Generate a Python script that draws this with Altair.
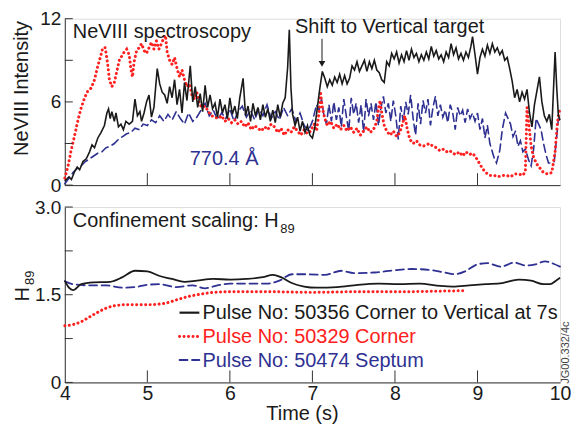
import altair as alt
import pandas as pd

# ---------------- data ----------------
# NeVIII intensity, pulse 50356 (black)
blk_t = [4.00,4.05,4.08,4.12,4.15,4.18,4.22,4.26,4.30,4.33,4.36,4.40,4.44,4.48,4.51,4.53,4.55,4.57,4.60,4.62,
         4.65,4.68,4.71,4.74,4.78,4.82,4.85,4.88,4.91,4.93,4.96,4.99,5.02,5.05,5.08,5.12,5.15,5.18,5.21,5.24,
         5.27,5.30,5.33,5.36,5.39,5.42,5.45,5.48,5.52,5.55,5.58,5.61,5.64,5.67,5.70,5.73,5.76,5.79,5.82,5.85,
         5.88,5.91,5.94,5.97,6.00,6.03,6.06,6.09,6.12,6.16,6.19,6.22,6.25,6.28,6.31,6.34,6.37,6.40,6.43,6.46,
         6.49,6.52,6.55,6.58,6.61,6.64,6.67,6.70,6.72,6.74,6.76,6.79,6.82,6.85,6.88,6.91,6.94,6.97,7.00,7.03,
         7.06,7.09,7.12,7.15,7.18,7.21,7.24,7.27,7.30,7.33,7.36,7.39,7.42,7.45,7.48,7.51,7.54,7.57,7.60,7.63,
         7.66,7.69,7.72,7.75,7.78,7.81,7.84,7.87,7.90,7.93,7.96,7.99,8.02,8.05,8.08,8.11,8.14,8.17,8.20,8.23,
         8.26,8.29,8.32,8.35,8.38,8.41,8.44,8.47,8.50,8.53,8.56,8.59,8.62,8.65,8.68,8.71,8.74,8.77,8.80,8.83,
         8.86,8.89,8.92,8.94,8.97,9.00,9.03,9.06,9.09,9.12,9.15,9.18,9.21,9.24,9.27,9.30,9.33,9.36,9.39,9.42,
         9.45,9.48,9.51,9.54,9.57,9.60,9.63,9.66,9.69,9.72,9.75,9.78,9.81,9.84,9.87,9.90,9.92,9.94,9.96,9.98,10.00]
blk_v = [0.3,0.6,0.4,1.0,1.3,1.1,1.7,1.9,2.4,2.9,2.7,3.4,3.8,4.3,5.2,5.5,4.8,5.3,4.6,5.2,
         4.2,4.4,4.0,4.6,4.4,4.6,6.2,5.0,5.3,4.6,5.2,6.0,6.5,4.9,5.6,8.4,7.3,6.7,6.5,5.9,
         7.1,6.3,7.6,5.8,6.9,5.2,7.4,6.1,8.6,6.0,7.1,5.6,6.6,5.3,7.2,5.6,6.5,5.5,5.9,4.9,
         6.2,5.2,5.8,4.8,6.3,5.1,5.7,4.8,6.3,7.7,5.0,5.7,4.6,5.9,5.0,5.6,4.7,5.8,4.9,5.5,
         4.6,5.4,4.5,5.8,4.9,5.9,6.3,8.5,11.2,7.0,5.1,4.3,4.9,3.9,4.6,3.8,4.3,3.6,3.4,4.2,
         5.6,7.0,8.2,7.7,7.1,7.6,7.2,7.8,7.4,8.0,7.3,7.9,7.3,7.7,8.6,8.3,8.9,8.2,8.6,9.0,
         8.2,8.9,8.4,9.0,8.3,8.1,7.6,7.4,8.9,8.6,9.5,9.1,9.6,8.8,9.4,8.9,9.7,9.0,9.8,9.2,
         9.5,8.9,9.4,9.0,9.6,9.1,10.0,9.3,9.7,9.1,9.4,8.9,9.6,9.2,10.2,9.4,9.9,9.1,9.5,9.0,
         9.6,9.2,10.0,10.7,9.4,8.0,9.2,9.8,9.3,10.1,9.5,10.2,9.6,9.9,9.4,9.7,9.0,9.2,8.4,7.5,
         6.3,6.9,6.0,6.7,6.2,6.9,5.2,4.2,5.8,6.8,7.8,6.0,5.0,4.6,5.1,4.0,6.8,9.6,7.0,5.0,4.7]

# NeVIII intensity, pulse 50329 (red)
red_t = [4.00,4.04,4.08,4.12,4.16,4.20,4.24,4.28,4.32,4.36,4.40,4.43,4.46,4.49,4.52,4.54,4.57,4.60,4.63,4.66,
         4.69,4.72,4.75,4.78,4.80,4.82,4.84,4.87,4.90,4.93,4.96,4.99,5.02,5.05,5.08,5.11,5.14,5.17,5.20,5.22,
         5.24,5.27,5.30,5.33,5.36,5.39,5.42,5.45,5.48,5.51,5.54,5.57,5.60,5.63,5.66,5.70,5.74,5.78,5.82,5.86,
         5.90,5.94,5.98,6.02,6.06,6.10,6.14,6.18,6.22,6.26,6.30,6.34,6.38,6.42,6.46,6.50,6.54,6.58,6.62,6.66,
         6.70,6.74,6.78,6.82,6.86,6.90,6.94,6.98,7.02,7.05,7.08,7.10,7.12,7.15,7.18,7.22,7.26,7.30,7.34,7.38,
         7.42,7.46,7.50,7.54,7.58,7.62,7.66,7.70,7.74,7.78,7.80,7.82,7.84,7.87,7.90,7.94,7.98,8.02,8.06,8.09,
         8.12,8.15,8.18,8.22,8.26,8.30,8.34,8.38,8.42,8.46,8.50,8.54,8.58,8.62,8.66,8.70,8.74,8.78,8.82,8.86,
         8.90,8.94,8.98,9.02,9.06,9.10,9.15,9.20,9.25,9.30,9.35,9.40,9.45,9.50,9.55,9.58,9.60,9.62,9.65,9.68,
         9.72,9.76,9.80,9.85,9.90,9.94,9.97,10.00]
red_v = [0.5,1.4,2.6,3.6,4.7,5.6,6.3,6.8,7.0,7.6,8.6,9.2,9.9,9.9,8.7,7.6,7.1,7.4,8.2,9.0,
         9.3,9.6,9.8,9.4,8.4,7.8,8.9,9.7,9.9,10.2,9.7,9.5,9.9,10.3,9.8,10.4,9.8,10.2,10.6,10.8,
         9.6,9.0,8.7,9.2,8.4,7.8,8.3,7.6,7.1,7.3,6.5,6.2,6.7,5.9,5.6,5.7,5.3,5.0,4.9,4.8,
         5.0,4.6,4.8,4.5,4.7,4.4,4.6,4.2,4.5,4.0,4.3,4.1,3.9,4.2,4.0,4.4,4.2,3.8,4.1,3.6,
         4.0,3.8,4.2,3.9,3.6,4.0,3.7,3.9,4.4,3.9,5.2,6.6,5.6,4.8,4.3,4.6,4.1,4.4,4.0,4.3,
         3.9,4.2,3.8,4.1,3.6,3.9,4.2,3.8,4.0,4.6,5.5,6.1,5.2,4.3,3.9,3.6,3.9,3.5,3.8,4.4,
         5.0,4.0,3.3,3.0,3.2,2.9,2.8,2.9,3.0,2.8,2.7,2.5,2.6,2.4,2.5,2.3,2.2,2.4,2.1,2.4,
         2.2,2.3,2.0,1.6,1.2,0.9,0.7,0.7,0.6,0.7,0.7,0.6,0.8,0.8,0.7,1.0,5.6,4.5,2.8,2.0,
         1.5,1.2,0.9,0.8,0.9,2.4,4.6,5.6]

# NeVIII intensity, pulse 50474 (blue)
blu_t = [4.00,4.05,4.10,4.15,4.20,4.25,4.30,4.35,4.40,4.45,4.50,4.55,4.60,4.65,4.70,4.75,4.80,4.85,4.90,4.95,
         5.00,5.05,5.10,5.15,5.20,5.25,5.30,5.35,5.40,5.45,5.50,5.55,5.60,5.65,5.70,5.75,5.80,5.85,5.90,5.95,
         6.00,6.05,6.10,6.15,6.20,6.25,6.30,6.35,6.40,6.45,6.50,6.55,6.60,6.65,6.70,6.75,6.80,6.85,6.90,6.95,
         7.00,7.05,7.08,7.11,7.14,7.17,7.20,7.23,7.26,7.29,7.32,7.35,7.38,7.41,7.44,7.47,7.50,7.53,7.56,7.59,
         7.62,7.65,7.68,7.71,7.74,7.77,7.80,7.83,7.86,7.89,7.92,7.95,7.98,8.01,8.04,8.07,8.10,8.13,8.16,8.19,
         8.22,8.25,8.28,8.31,8.34,8.37,8.40,8.43,8.46,8.49,8.52,8.55,8.58,8.61,8.64,8.67,8.70,8.73,8.76,8.79,
         8.82,8.85,8.88,8.91,8.94,8.97,9.00,9.03,9.06,9.09,9.12,9.15,9.20,9.23,9.27,9.30,9.34,9.37,9.40,9.43,
         9.46,9.49,9.52,9.55,9.58,9.62,9.65,9.68,9.71,9.74,9.77,9.80,9.83,9.86,9.90,9.93,9.96,9.98,10.00]
blu_v = [0.1,0.5,0.9,1.2,1.4,1.7,1.9,2.1,2.3,2.4,2.7,2.8,3.0,3.3,3.5,3.7,3.8,4.1,4.0,4.4,
         4.3,4.7,4.5,5.0,4.6,5.1,4.7,5.3,4.8,4.4,5.2,4.6,4.9,5.4,5.9,5.0,5.4,4.7,5.2,4.8,
         5.5,4.6,5.3,5.7,4.9,5.4,4.7,5.5,5.0,5.8,4.8,5.3,4.7,5.6,5.0,5.5,4.6,5.2,4.3,3.9,
         4.6,5.8,5.4,6.2,5.0,4.4,5.8,4.6,6.0,4.7,5.6,4.2,6.2,5.0,3.9,6.3,5.1,5.9,4.5,5.8,
         3.8,6.2,5.0,5.9,4.7,6.0,4.3,5.6,6.4,5.2,5.9,4.6,6.1,5.0,3.3,5.7,4.6,6.0,5.1,6.5,
         4.8,3.6,5.9,4.4,6.1,5.2,6.2,4.3,5.6,6.4,5.0,5.8,4.9,5.4,4.5,5.8,5.2,4.0,5.6,5.0,
         5.4,4.5,5.5,4.8,5.2,4.6,5.2,4.0,4.8,3.4,4.3,3.0,2.0,1.6,2.5,4.0,5.2,4.8,4.4,3.5,
         3.9,2.8,3.2,2.4,2.6,1.8,1.4,2.6,4.8,4.4,4.0,3.0,2.2,1.6,1.6,1.7,3.5,4.8,4.5]

# H89 confinement factor
h_blk_t = [4.00,4.05,4.10,4.20,4.35,4.55,4.70,4.85,5.00,5.15,5.30,5.45,5.60,5.80,6.00,6.20,6.40,6.52,6.62,6.75,
           6.90,7.05,7.30,7.55,7.80,8.05,8.30,8.55,8.70,8.90,9.10,9.30,9.50,9.65,9.80,9.88,9.95,10.00]
h_blk_v = [1.74,1.62,1.58,1.68,1.71,1.72,1.80,1.91,1.90,1.82,1.77,1.72,1.74,1.77,1.76,1.77,1.80,1.84,1.80,1.70,
           1.64,1.62,1.63,1.67,1.69,1.68,1.69,1.65,1.64,1.66,1.68,1.70,1.76,1.74,1.68,1.68,1.74,1.79]
h_red_t = [4.00,4.10,4.20,4.30,4.40,4.50,4.60,4.75,5.00,5.20,5.35,5.50,5.65,5.80,6.00,6.50,7.00,7.50,8.00,8.50,8.87]
h_red_v = [0.97,0.99,1.04,1.12,1.20,1.27,1.31,1.33,1.33,1.35,1.41,1.47,1.51,1.54,1.55,1.55,1.54,1.55,1.55,1.56,1.57]
h_blu_t = [4.00,4.10,4.30,4.50,4.70,4.85,5.00,5.15,5.35,5.55,5.70,5.85,6.00,6.20,6.45,6.60,6.75,6.95,7.15,7.35,
           7.50,7.75,8.00,8.20,8.45,8.60,8.72,8.85,9.00,9.12,9.28,9.45,9.58,9.70,9.82,9.92,10.00]
h_blu_v = [1.73,1.68,1.66,1.66,1.62,1.63,1.67,1.68,1.63,1.66,1.61,1.66,1.69,1.69,1.69,1.74,1.85,1.85,1.84,1.91,
           1.87,1.88,1.92,1.94,1.92,1.88,1.85,1.90,2.02,2.04,1.98,2.05,2.00,2.02,2.07,2.03,1.98]

legend_labels = ["Pulse No: 50356 Corner to Vertical at 7s",
                 "Pulse No: 50329 Corner",
                 "Pulse No: 50474 Septum"]

x_ticks = [5, 6, 7, 8, 9]
x_labels = [4, 5, 6, 7, 8, 9, 10]
top_ticks = [0, 3, 6, 9, 12]
top_labels = [0, 6, 12]
bot_ticks = [0, 0.75, 1.5, 2.25, 3.0]
bot_labels = [0, 1.5, 3.0]

# ---------------- style ----------------
W, H1, H2 = 497, 167, 176
FONT = "Liberation Sans"
BLACK, RED, BLUE = "#1a1a1a", "#ff2020", "#2e3192"
AXC = "#333333"

xscale = alt.Scale(domain=[4, 10], nice=False, zero=False)
ytop = alt.Scale(domain=[0, 12], nice=False)
ybot = alt.Scale(domain=[0, 3], nice=False)

x_hidden = alt.Axis(labels=False, ticks=False, grid=False, title=None, domainColor=AXC)
x_shown = alt.Axis(values=x_labels, format="d", labelFlush=False, ticks=False, grid=False,
                   labelFontSize=19.5, labelPadding=2,
                   labelColor=BLACK, domainColor=AXC, title="Time (s)", titleFontSize=20,
                   titleFontWeight="normal", titleColor=BLACK, titleX=238, titleY=37,
                   titleBaseline="alphabetic", titleFont=FONT, labelFont=FONT)
y_top_axis = alt.Axis(values=top_labels, ticks=False, grid=False, title=None, labelFontSize=19,
                      labelPadding=4, labelColor=BLACK, domainColor=AXC, labelFont=FONT, labelFlush=False)
y_bot_axis = alt.Axis(values=bot_labels, ticks=False, grid=False, title=None, labelFontSize=19,
                      labelPadding=4, labelColor=BLACK, domainColor=AXC, labelFont=FONT, labelFlush=False,
                      labelExpr="datum.value == 0 ? '0' : format(datum.value, '.1f')")


def series(ts, vs):
    return pd.DataFrame({"t": ts, "v": vs})


def panel_lines(specs, xax, yscale, yax, interp):
    layers = []
    for df, color, dash, width in specs:
        kw = dict(color=color, strokeWidth=width, interpolate=interp, clip=False)
        if dash is not None:
            kw["strokeDash"] = dash
            kw["strokeCap"] = "round"
        layers.append(alt.Chart(df).mark_line(**kw).encode(
            x=alt.X("t:Q", scale=xscale, axis=xax),
            y=alt.Y("v:Q", scale=yscale, axis=yax)))
    return layers


def xtick_layer(yscale, h):
    return alt.Chart(pd.DataFrame({"t": x_ticks})).mark_rule(color=AXC, strokeWidth=1).encode(
        x=alt.X("t:Q", scale=xscale), y=alt.value(h), y2=alt.value(h - 12))


def ytick_layer(vals, yscale):
    return alt.Chart(pd.DataFrame({"v": vals})).mark_rule(color=AXC, strokeWidth=1).encode(
        y=alt.Y("v:Q", scale=yscale), x=alt.value(0), x2=alt.value(8))


def text_at(t, v, txt, yscale, color=BLACK, size=20, align="left", baseline="alphabetic", angle=0):
    return alt.Chart(pd.DataFrame({"t": [t], "v": [v], "s": [txt]})).mark_text(
        font=FONT, fontSize=size, color=color, align=align, baseline=baseline, angle=angle,
        clip=False).encode(x=alt.X("t:Q", scale=xscale), y=alt.Y("v:Q", scale=yscale), text="s:N")


def text_px(x, y, txt, color=BLACK, size=20, align="center", baseline="alphabetic", angle=0):
    return alt.Chart(pd.DataFrame({"s": [txt]})).mark_text(
        font=FONT, fontSize=size, color=color, align=align, baseline=baseline, angle=angle).encode(
        x=alt.value(x), y=alt.value(y), text="s:N")


DOT = [0.1, 4.4]
DASH = [8, 4.5]

# ---------------- top panel ----------------
top_layers = panel_lines([
    (series(blu_t, blu_v), BLUE, DASH, 1.6),
    (series(red_t, red_v), RED, DOT, 3),
    (series(blk_t, blk_v), BLACK, None, 1.6),
], x_hidden, ytop, y_top_axis, "linear")

arrow_t = 7.116
arrow = alt.Chart(pd.DataFrame({"t": [arrow_t], "v": [10.55], "v2": [8.9]})).mark_rule(
    color=BLACK, strokeWidth=1).encode(x=alt.X("t:Q", scale=xscale), y=alt.Y("v:Q", scale=ytop), y2="v2:Q")
head = alt.Chart(pd.DataFrame({"t": [arrow_t], "v": [8.75]})).mark_point(
    shape="triangle-down", filled=True, color=BLACK, size=45, opacity=1).encode(
    x=alt.X("t:Q", scale=xscale), y=alt.Y("v:Q", scale=ytop))

top = alt.layer(
    *top_layers,
    xtick_layer(ytop, H1), ytick_layer(top_ticks, ytop),
    text_at(4.097, 10.6, "NeVIII spectroscopy", ytop),
    text_at(6.79, 10.95, "Shift to Vertical target", ytop),
    text_at(5.93, 1.45, "770.4 Å", ytop, color=BLUE, align="center"),
    arrow, head,
    text_px(-36.5, 70, "NeVIII Intensity", angle=270),
).properties(width=W, height=H1)

# ---------------- bottom panel ----------------
bot_layers = panel_lines([
    (series(h_blu_t, h_blu_v), BLUE, DASH, 1.8),
    (series(h_red_t, h_red_v), RED, DOT, 3),
    (series(h_blk_t, h_blk_v), BLACK, None, 1.8),
], x_shown, ybot, y_bot_axis, "monotone")

leg_line_v = [1.193, 0.784, 0.383]
leg_text_v = [1.079, 0.675, 0.271]
leg_colors = [BLACK, RED, BLUE]
leg_dash = [None, DOT, DASH]
legend_layers = []
for lab, col, dsh, lv, tv in zip(legend_labels, leg_colors, leg_dash, leg_line_v, leg_text_v):
    kw = dict(color=col, strokeWidth=2.2 if dsh is None else (3 if dsh == DOT else 1.8))
    if dsh is not None:
        kw["strokeDash"] = dsh
        kw["strokeCap"] = "round"
    legend_layers.append(alt.Chart(pd.DataFrame({"t": [5.39], "t2": [5.63], "v": [lv]})).mark_rule(**kw).encode(
        x=alt.X("t:Q", scale=xscale), x2="t2:Q", y=alt.Y("v:Q", scale=ybot)))
    legend_layers.append(text_at(5.667, tv, lab, ybot, color=col))

bottom = alt.layer(
    *bot_layers,
    xtick_layer(ybot, H2), ytick_layer(bot_ticks, ybot),
    text_at(4.097, 2.65, "Confinement scaling: H", ybot),
    text_at(6.61, 2.55, "89", ybot, size=13),
    *legend_layers,
    text_px(-36, 87.5, "H", angle=270),
    text_px(-31, 71, "89", size=13, angle=270),
    text_at(10.11, 0.51, "JG00.332/4c", ybot, color="#444", size=11, align="center", angle=270),
).properties(width=W, height=H2)

chart = alt.vconcat(top, bottom, spacing=22, bounds="flush").properties(
    padding={"left": 3, "top": 0, "right": 0, "bottom": 0}
).configure_view(stroke="#8a8a8a", strokeWidth=1).configure(font=FONT)

chart.save("out.html", embed_options={"renderer": "svg", "actions": False})
